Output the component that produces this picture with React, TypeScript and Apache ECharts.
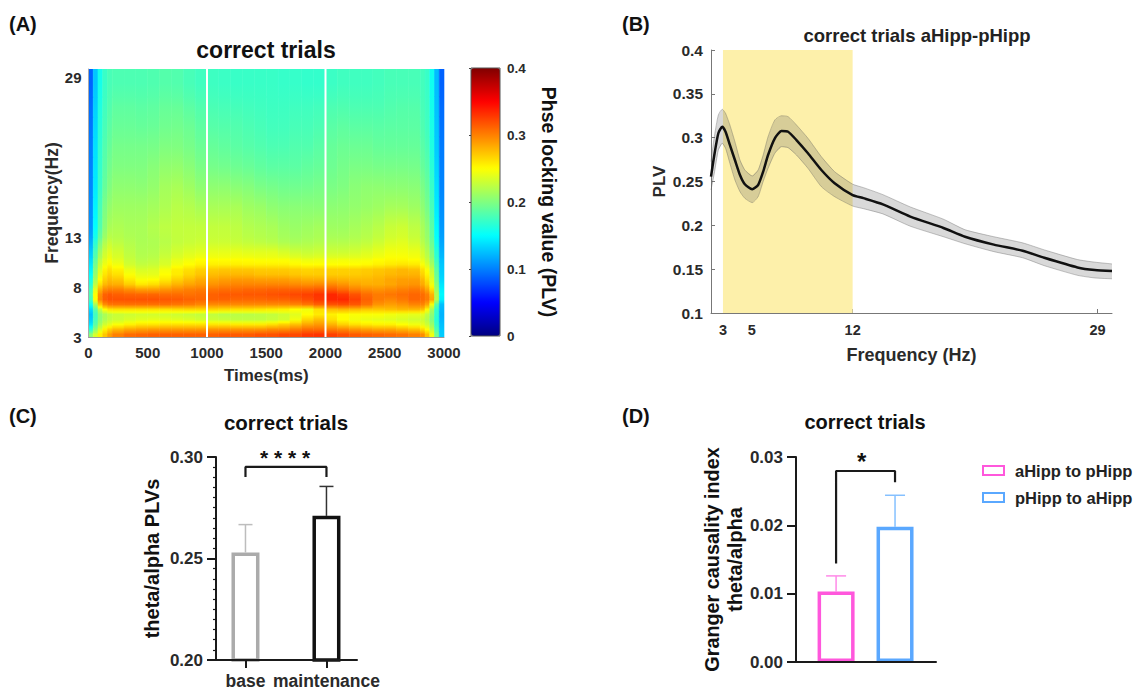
import React, { useEffect, useRef } from "react";
import * as echarts from "echarts";

const FONT = "'Liberation Sans', Arial, sans-serif";
const INK = "#2a2a2a";

// Panel A: time-bin edges (ms), frequency-bin edges (Hz), PLV x 1000 per frequency row
const TIME_EDGES = [0, 40, 80, 120, 160, 200, 300, 400, 500, 600, 700, 800, 900, 1000, 1100, 1200, 1300, 1400, 1500, 1600, 1700, 1800, 1900, 2000, 2100, 2200, 2300, 2400, 2500, 2600, 2700, 2800, 2840, 2880, 2920, 2960, 3000];
const FREQ_EDGES = [3, 3.5, 4, 4.5, 5, 5.5, 6, 6.5, 7, 7.5, 8, 8.5, 9, 9.5, 10, 10.5, 11, 12, 13, 15, 17, 19, 21, 23, 25, 27, 29.8];
const ROW_03_0 = [205,235,255,272,288, 300,308,310,312,312,312,312,312,312,315,315,315,318,318,322,322,328,330,325,320,315,312,310,308,305,300, 295,275,245,195,130];
const ROW_03_5 = [165,205,235,255,268, 278,285,288,290,290,290,290,290,292,292,292,292,292,296,296,302,308,308,302,298,292,288,285,285,280,275, 265,250,225,180,128];
const ROW_04_0 = [140,185,215,232,240, 248,255,260,260,262,262,262,262,260,260,258,258,258,262,268,275,285,290,280,268,262,258,255,255,250,245, 240,230,210,170,125];
const ROW_04_5 = [130,178,205,218,226, 230,235,238,240,240,238,236,232,230,228,225,225,225,228,232,245,265,275,262,250,245,242,240,238,235,232, 230,220,200,165,122];
const ROW_05_0 = [125,175,205,216,224, 228,230,232,232,232,230,228,226,225,222,222,222,224,226,230,238,250,258,255,250,248,248,248,245,242,240, 238,225,205,168,120];
const ROW_05_5 = [135,185,225,250,260, 262,262,262,262,262,264,266,266,266,264,262,262,260,258,256,250,245,262,275,278,276,272,272,275,278,278, 275,252,215,170,122];
const ROW_06_0 = [155,215,270,295,304, 305,306,306,306,306,304,302,298,296,296,296,296,296,296,296,298,304,312,318,320,316,306,292,288,292,298, 298,285,245,185,125];
const ROW_06_5 = [175,250,298,314,318, 318,318,318,318,316,315,312,310,312,312,310,310,310,312,312,315,320,328,335,335,325,312,302,298,303,310, 308,302,285,220,145];
const ROW_07_0 = [180,250,295,312,316, 313,311,310,310,308,308,306,308,312,315,315,316,316,318,320,322,325,330,335,328,318,308,302,304,307,310, 308,300,280,218,148];
const ROW_07_5 = [175,240,280,296,300, 300,294,288,288,292,296,300,302,305,307,308,310,310,312,312,312,312,315,315,308,300,295,293,296,300,303, 298,285,262,210,145];
const ROW_08_0 = [165,225,262,278,284, 282,270,260,263,272,280,286,290,293,296,298,298,298,298,298,296,294,296,297,292,286,282,282,285,290,292, 284,270,245,202,140];
const ROW_08_5 = [158,215,250,268,276, 272,258,248,250,258,268,276,283,285,288,290,290,288,288,288,285,282,282,282,280,278,278,280,285,288,288, 278,262,238,195,135];
const ROW_09_0 = [150,208,242,260,268, 262,248,240,240,250,258,266,273,276,278,278,278,275,275,275,272,270,270,270,270,270,272,275,278,280,280, 268,254,232,190,132];
const ROW_09_5 = [145,202,236,254,262, 255,242,234,236,246,256,262,268,270,272,272,272,270,270,270,268,266,268,268,268,268,270,272,275,278,275, 262,248,226,185,130];
const ROW_10_0 = [140,195,228,244,252, 245,232,226,228,235,245,250,255,256,256,256,255,255,255,255,252,250,250,250,250,250,252,255,258,260,258, 248,236,215,178,128];
const ROW_10_5 = [135,188,222,238,246, 238,228,222,224,232,240,245,250,250,250,250,250,248,248,248,245,242,244,244,245,245,246,250,252,252,250, 240,228,208,172,125];
const ROW_11_0 = [128,178,212,230,238, 232,224,219,220,226,232,236,238,240,240,240,238,238,238,234,230,228,230,230,230,232,236,240,245,245,242, 232,220,200,165,120];
const ROW_12_0 = [118,165,198,218,228, 224,220,217,218,222,226,228,230,230,230,228,226,224,222,218,216,218,220,220,220,222,225,230,236,238,232, 222,212,192,155,115];
const ROW_13_0 = [108,150,182,204,216, 218,216,216,220,224,226,226,226,226,226,224,220,218,216,212,210,212,214,212,212,215,218,222,228,230,224, 216,206,186,148,110];
const ROW_15_0 = [105,146,178,198,208, 212,212,212,214,218,222,220,216,216,216,216,212,210,206,204,204,204,204,205,206,208,210,212,215,215,212, 206,196,178,142,106];
const ROW_17_0 = [102,142,172,190,200, 206,206,205,208,214,216,212,206,206,206,204,202,198,196,194,194,195,197,198,200,204,206,206,205,205,204, 198,190,172,138,102];
const ROW_19_0 = [100,140,170,185,195, 200,200,200,203,207,208,204,198,196,195,193,191,188,186,186,186,188,190,193,196,198,198,197,197,197,196, 190,184,166,134,100];
const ROW_21_0 = [98,138,168,182,190, 196,196,196,197,200,200,197,192,190,188,186,184,182,180,180,182,182,185,190,192,192,192,190,190,190,190, 185,179,162,130,98];
const ROW_23_0 = [95,135,165,178,186, 191,191,190,191,194,195,192,187,184,183,182,180,178,176,176,178,178,180,185,187,186,186,185,186,186,186, 181,175,160,128,95];
const ROW_25_0 = [92,132,162,175,182, 187,187,186,187,190,190,186,182,179,178,177,176,175,174,174,175,175,176,180,181,180,180,180,182,183,183, 178,174,158,126,92];
const ROW_27_0 = [88,128,158,172,178, 180,180,180,181,183,182,178,175,174,173,172,172,172,172,171,171,170,170,173,175,175,175,176,178,178,178, 176,172,156,124,88];
const PLV_ROWS = [ROW_03_0, ROW_03_5, ROW_04_0, ROW_04_5, ROW_05_0, ROW_05_5, ROW_06_0, ROW_06_5, ROW_07_0, ROW_07_5, ROW_08_0, ROW_08_5, ROW_09_0, ROW_09_5, ROW_10_0, ROW_10_5, ROW_11_0, ROW_12_0, ROW_13_0, ROW_15_0, ROW_17_0, ROW_19_0, ROW_21_0, ROW_23_0, ROW_25_0, ROW_27_0];
const EPOCH_BOUNDARIES = [1000, 2000];
const A_TIME_TICKS = [0, 500, 1000, 1500, 2000, 2500, 3000];
const A_FREQ_TICKS = [3, 8, 13, 29];
const JET = ["#000080", "#0000ff", "#0080ff", "#00ffff", "#80ff80", "#ffff00", "#ff8000", "#ff0000", "#800000"];
const PLV_MAX = 0.4;

// Panel B
const B_FREQ = [2.17, 2.4, 2.68, 2.95, 3.18, 3.48, 3.83, 4.18, 4.52, 5.03, 5.44, 5.79, 6.13, 6.6, 7.06, 7.52, 8.1, 8.9, 9.83, 10.75, 12, 12.75, 14.1, 16, 18.3, 19.8, 21.8, 23.8, 25.3, 27.6, 28.8, 30];
const B_PLV = [0.2555, 0.2802, 0.305, 0.3125, 0.3068, 0.2917, 0.2745, 0.2574, 0.2468, 0.2411, 0.246, 0.2612, 0.2802, 0.2993, 0.3076, 0.3068, 0.2973, 0.2822, 0.2631, 0.248, 0.2345, 0.231, 0.224, 0.21, 0.197, 0.187, 0.178, 0.171, 0.163, 0.152, 0.149, 0.148];
const B_UPPER = [0.2727, 0.3011, 0.3259, 0.3324, 0.3278, 0.3145, 0.2954, 0.2745, 0.2631, 0.2563, 0.2631, 0.2802, 0.3011, 0.3202, 0.325, 0.324, 0.3145, 0.2993, 0.2783, 0.2612, 0.247, 0.243, 0.235, 0.221, 0.207, 0.195, 0.187, 0.18, 0.172, 0.161, 0.158, 0.156];
const B_LOWER = [0.2403, 0.2594, 0.2859, 0.2936, 0.2879, 0.2708, 0.2517, 0.2384, 0.2308, 0.2259, 0.2327, 0.25, 0.265, 0.2822, 0.2897, 0.2886, 0.2802, 0.265, 0.2441, 0.2327, 0.222, 0.219, 0.213, 0.199, 0.187, 0.179, 0.17, 0.163, 0.154, 0.143, 0.14, 0.139];
const B_FREQ_TICKS = [3, 5, 12, 29];
const B_BAND = [3, 12];

// Panel C
const C_NAMES = ["base", "maintenance"];
const C_VALUES = [0.253, 0.271];
const C_TOPS = [0.2667, 0.2855];
const C_COLORS = ["#ababab", "#111111"];
const C_ERR_COLORS = ["#bdbdbd", "#333333"];
const C_BRACKET = [[0, 0.2902], [0, 0.2951], [1, 0.2951], [1, 0.2902]];

// Panel D
const D_NAMES = ["aHipp to pHipp", "pHipp to aHipp"];
const D_VALUES = [0.0103, 0.0198];
const D_TOPS = [0.0126, 0.0244];
const D_COLORS = ["#ff57dc", "#5aa8ff"];
const D_ERR_COLORS = ["#ff8ae8", "#85c0ff"];
const D_BRACKET = [[0, 0.0144], [0, 0.02795], [1, 0.02795], [1, 0.0263]];

const COLS = TIME_EDGES.length - 1;
const heatCells: number[][] = [];
PLV_ROWS.forEach((row, r) =>
  row.forEach((v, c) =>
    heatCells.push([TIME_EDGES[c], TIME_EDGES[c + 1], FREQ_EDGES[r], FREQ_EDGES[r + 1], v / 1000])
  )
);

const hexRgb = (h: string) => [1, 3, 5].map((i) => parseInt(h.slice(i, i + 2), 16));
const jetColor = (v: number) => {
  const t = Math.max(0, Math.min(1, v / PLV_MAX)) * (JET.length - 1);
  const i = Math.min(JET.length - 2, Math.floor(t));
  const a = hexRgb(JET[i]);
  const b = hexRgb(JET[i + 1]);
  const m = a.map((x, k) => Math.round(x + (b[k] - x) * (t - i)));
  return `rgb(${m[0]},${m[1]},${m[2]})`;
};
// Fill of one cell: its own value in the middle, blending toward the rows above and below at its edges.
const cellFill = (index: number) => {
  const r = Math.floor(index / COLS);
  const c = index % COLS;
  const v = PLV_ROWS[r][c] / 1000;
  const up = (PLV_ROWS[r + 1] ?? PLV_ROWS[r])[c] / 1000;
  const down = (PLV_ROWS[r - 1] ?? PLV_ROWS[r])[c] / 1000;
  return new echarts.graphic.LinearGradient(0, 0, 0, 1, [
    { offset: 0, color: jetColor((v + up) / 2) },
    { offset: 0.5, color: jetColor(v) },
    { offset: 1, color: jetColor((v + down) / 2) },
  ]);
};

const bold = (fontSize: number, color = INK) => ({ fontFamily: FONT, fontWeight: "bold", fontSize, color });

const errorSeries = (idx: number, values: number[], tops: number[], colors: string[], capHalf: number, width: number) => ({
  type: "custom",
  xAxisIndex: idx,
  yAxisIndex: idx,
  z: 1,
  clip: false,
  silent: true,
  data: values.map((v, i) => [i, v, tops[i]]),
  renderItem: (params: any, api: any) => {
    const base = api.coord([api.value(0), api.value(1)]);
    const top = api.coord([api.value(0), api.value(2)]);
    const style = { stroke: colors[params.dataIndex], lineWidth: width, fill: "none" };
    return {
      type: "group",
      children: [
        { type: "line", shape: { x1: base[0], y1: base[1], x2: top[0], y2: top[1] }, style },
        { type: "line", shape: { x1: top[0] - capHalf, y1: top[1], x2: top[0] + capHalf, y2: top[1] }, style },
      ],
    };
  },
});

const bracketSeries = (idx: number, data: number[][]) => ({
  type: "line",
  xAxisIndex: idx,
  yAxisIndex: idx,
  data,
  symbol: "none",
  clip: false,
  silent: true,
  lineStyle: { color: "#1a1a1a", width: 2.2 },
});

const barAxisX = (gridIndex: number, min: number, max: number, names: string[] | null) => ({
  type: "value",
  gridIndex,
  min,
  max,
  z: 5,
  splitLine: { show: false },
  axisLine: { show: true, onZero: false, lineStyle: { color: "#1a1a1a", width: 2 } },
  axisTick: names ? { show: true, customValues: [0, 1], length: 8, lineStyle: { color: "#1a1a1a", width: 2 } } : { show: false },
  axisLabel: names
    ? { show: true, customValues: [0, 1], margin: 12, formatter: (v: number) => names[v], ...bold(17.5) }
    : { show: false },
});

const sideLine = { color: "rgba(90,90,90,0.45)", width: 0.8 };

const option: any = {
  animation: false,
  backgroundColor: "#ffffff",
  textStyle: { fontFamily: FONT },
  title: [
    { text: "correct trials", left: 266, top: 38, padding: 0, textAlign: "center", textStyle: bold(23, "#111") },
    { text: "correct trials aHipp-pHipp", left: 917, top: 26, padding: 0, textAlign: "center", textStyle: bold(18.5, "#222") },
    { text: "correct trials", left: 286, top: 412, padding: 0, textAlign: "center", textStyle: bold(20.5, "#111") },
    { text: "correct trials", left: 865, top: 412, padding: 0, textAlign: "center", textStyle: bold(20, "#111") },
  ],
  grid: [
    { left: 88.5, top: 69, width: 355.5, height: 268 },
    { left: 471, top: 68, width: 29, height: 268, show: true, borderColor: "#555", borderWidth: 1, backgroundColor: "transparent", z: 6 },
    { left: 711, top: 50, width: 401, height: 263 },
    { left: 216, top: 457, width: 141, height: 204 },
    { left: 796, top: 457, width: 140, height: 205 },
  ],
  visualMap: {
    type: "continuous",
    seriesIndex: 0,
    dimension: 4,
    min: 0,
    max: PLV_MAX,
    calculable: false,
    showLabel: false,
    text: ["", ""],
    left: 471,
    top: 68,
    itemWidth: 29,
    itemHeight: 268,
    padding: 0,
    z: 1,
    inRange: { color: JET },
  },
  xAxis: [
    {
      type: "value", gridIndex: 0, min: 0, max: 3000, z: 5,
      name: "Times(ms)", nameLocation: "middle", nameGap: 30, nameTextStyle: bold(17),
      splitLine: { show: false },
      axisLine: { show: true, lineStyle: { color: "#999", width: 1 } },
      axisTick: { show: false },
      axisLabel: { customValues: A_TIME_TICKS, margin: 8, formatter: (v: number) => String(v), ...bold(15) },
    },
    { type: "value", gridIndex: 1, min: 0, max: 1, show: false },
    {
      type: "value", gridIndex: 2, min: 2.17, max: 30,
      name: "Frequency (Hz)", nameLocation: "middle", nameGap: 33, nameTextStyle: bold(18),
      splitLine: { show: false },
      axisLine: { show: true, lineStyle: { color: "#777", width: 1 } },
      axisTick: { show: true, inside: true, customValues: B_FREQ_TICKS, length: 4, lineStyle: { color: "#777" } },
      axisLabel: { customValues: B_FREQ_TICKS, margin: 9, ...bold(14.5) },
    },
    barAxisX(3, -0.364, 1.377, C_NAMES),
    barAxisX(4, -0.68, 1.695, null),
  ],
  yAxis: [
    {
      type: "value", gridIndex: 0, min: 3, max: 29.8, z: 5,
      name: "Frequency(Hz)", nameLocation: "middle", nameGap: 27, nameTextStyle: bold(17.5),
      splitLine: { show: false },
      axisLine: { show: true, lineStyle: { color: "#aaa", width: 1 } },
      axisTick: { show: false },
      axisLabel: { customValues: A_FREQ_TICKS, margin: 7, ...bold(15) },
    },
    {
      type: "value", gridIndex: 1, min: 0, max: PLV_MAX, interval: 0.1, position: "right", z: 7,
      name: "Phse locking value (PLV)", nameLocation: "middle", nameRotate: -90, nameGap: 39, nameTextStyle: bold(19.5, "#111"),
      splitLine: { show: false },
      axisLine: { show: false },
      axisTick: { show: true, inside: true, length: 2, lineStyle: { color: "#444" } },
      axisLabel: { margin: 7, formatter: (v: number) => String(v), ...bold(13.5) },
    },
    {
      type: "value", gridIndex: 2, min: 0.1, max: 0.4, interval: 0.05,
      name: "PLV", nameLocation: "middle", nameGap: 43, nameTextStyle: bold(17),
      splitLine: { show: false },
      axisLine: { show: true, lineStyle: { color: "#777", width: 1 } },
      axisTick: { show: true, inside: true, length: 4, lineStyle: { color: "#777" } },
      axisLabel: { margin: 8, formatter: (v: number) => String(+v.toFixed(2)), ...bold(15.5) },
    },
    {
      type: "value", gridIndex: 3, min: 0.2, max: 0.3, interval: 0.05, z: 5,
      name: "theta/alpha PLVs", nameLocation: "middle", nameGap: 54, nameTextStyle: bold(20, "#111"),
      splitLine: { show: false },
      axisLine: { show: true, onZero: false, lineStyle: { color: "#1a1a1a", width: 2 } },
      axisTick: { show: true, length: 9, lineStyle: { color: "#1a1a1a", width: 2 } },
      minorTick: { show: true, splitNumber: 10, length: 3, lineStyle: { color: "#1a1a1a", width: 1.2 } },
      axisLabel: { margin: 13, formatter: (v: number) => v.toFixed(2), ...bold(17) },
    },
    {
      type: "value", gridIndex: 4, min: 0, max: 0.03, interval: 0.01, z: 5,
      name: "Granger causality index\ntheta/alpha", nameLocation: "middle", nameGap: 50,
      nameTextStyle: { ...bold(19.8, "#111"), lineHeight: 23 },
      splitLine: { show: false },
      axisLine: { show: true, onZero: false, lineStyle: { color: "#1a1a1a", width: 2 } },
      axisTick: { show: true, length: 9, lineStyle: { color: "#1a1a1a", width: 2 } },
      axisLabel: { margin: 13, formatter: (v: number) => v.toFixed(2), ...bold(17) },
    },
  ],
  legend: {
    data: D_NAMES,
    orient: "vertical",
    left: 982,
    top: 462,
    itemWidth: 21,
    itemHeight: 9,
    itemGap: 10,
    icon: "rect",
    padding: 0,
    selectedMode: false,
    textStyle: { ...bold(16.5, "#222"), padding: [0, 0, 0, 6] },
  },
  series: [
    {
      type: "custom",
      xAxisIndex: 0,
      yAxisIndex: 0,
      data: heatCells,
      encode: { x: [0, 1], y: [2, 3] },
      silent: true,
      clip: true,
      renderItem: (params: any, api: any) => {
        const a = api.coord([api.value(0), api.value(3)]);
        const b = api.coord([api.value(1), api.value(2)]);
        const fill = cellFill(params.dataIndex);
        return {
          type: "rect",
          shape: { x: a[0], y: a[1], width: b[0] - a[0], height: b[1] - a[1] },
          style: { fill, stroke: fill, lineWidth: 0.6 },
        };
      },
    },
    ...EPOCH_BOUNDARIES.map((t) => ({
      type: "line",
      xAxisIndex: 0,
      yAxisIndex: 0,
      data: [[t, 3], [t, 29.8]],
      symbol: "none",
      silent: true,
      lineStyle: { color: "#ffffff", width: 2 },
      z: 4,
    })),
    // Panel B: shaded error band between the upper and lower curves
    {
      type: "custom",
      xAxisIndex: 2,
      yAxisIndex: 2,
      silent: true,
      clip: true,
      z: 2,
      data: [[B_FREQ[0], B_LOWER[0]]],
      renderItem: (_: any, api: any) => {
        const points = [
          ...B_FREQ.map((f, i) => api.coord([f, B_UPPER[i]])),
          ...B_FREQ.map((f, i) => api.coord([f, B_LOWER[i]])).reverse(),
        ];
        return { type: "polygon", shape: { points }, style: { fill: "rgba(95,95,95,0.24)", stroke: "none" } };
      },
    },
    {
      type: "line", xAxisIndex: 2, yAxisIndex: 2, smooth: 0.2, symbol: "none", silent: true, z: 2,
      data: B_FREQ.map((f, i) => [f, B_LOWER[i]]),
      lineStyle: sideLine,
    },
    {
      type: "line", xAxisIndex: 2, yAxisIndex: 2, smooth: 0.2, symbol: "none", silent: true, z: 2,
      data: B_FREQ.map((f, i) => [f, B_UPPER[i]]),
      lineStyle: sideLine,
    },
    {
      type: "line",
      xAxisIndex: 2,
      yAxisIndex: 2,
      smooth: 0.2,
      symbol: "none",
      silent: true,
      data: B_FREQ.map((f, i) => [f, B_PLV[i]]),
      lineStyle: { color: "#111111", width: 2.5 },
      z: 3,
      markArea: {
        silent: true,
        z: 1,
        itemStyle: { color: "#fdf0aa", opacity: 1 },
        data: [[{ xAxis: B_BAND[0] }, { xAxis: B_BAND[1] }]],
      },
    },
    // Panel C
    {
      type: "bar",
      xAxisIndex: 3,
      yAxisIndex: 3,
      barWidth: 28,
      silent: true,
      z: 2,
      data: C_VALUES.map((v, i) => ({
        value: [i, v],
        itemStyle: { color: "#ffffff", borderColor: C_COLORS[i], borderWidth: 3.5 },
      })),
    },
    errorSeries(3, C_VALUES, C_TOPS, C_ERR_COLORS, 7, 1.5),
    bracketSeries(3, C_BRACKET),
    // Panel D
    ...D_NAMES.map((name, i) => ({
      type: "bar",
      name,
      xAxisIndex: 4,
      yAxisIndex: 4,
      barWidth: 37,
      barGap: "-100%",
      silent: true,
      z: 2,
      itemStyle: { color: "#ffffff", borderColor: D_COLORS[i], borderWidth: 3.5 },
      data: [[i, D_VALUES[i]]],
    })),
    errorSeries(4, D_VALUES, D_TOPS, D_ERR_COLORS, 10, 1.5),
    bracketSeries(4, D_BRACKET),
  ],
  graphic: [
    { type: "text", left: 9, top: 14, style: { text: "(A)", font: `bold 20px ${FONT}`, fill: "#111" } },
    { type: "text", left: 622, top: 14, style: { text: "(B)", font: `bold 20px ${FONT}`, fill: "#111" } },
    { type: "text", left: 9, top: 406, style: { text: "(C)", font: `bold 20px ${FONT}`, fill: "#111" } },
    { type: "text", left: 622, top: 406, style: { text: "(D)", font: `bold 20px ${FONT}`, fill: "#111" } },
    { type: "text", left: 260, top: 447, style: { text: "* * * *", font: `bold 21px ${FONT}`, fill: "#111" } },
    { type: "text", left: 857, top: 449, style: { text: "*", font: `bold 24px ${FONT}`, fill: "#111" } },
  ],
};

export default function App() {
  const ref = useRef<HTMLDivElement>(null);
  useEffect(() => {
    const chart = echarts.init(ref.current!, null, { renderer: "svg" });
    chart.setOption(option);
    return () => chart.dispose();
  }, []);
  return <div ref={ref} style={{ position: "absolute", left: 0, top: 0, width: 1137, height: 690 }} />;
}
